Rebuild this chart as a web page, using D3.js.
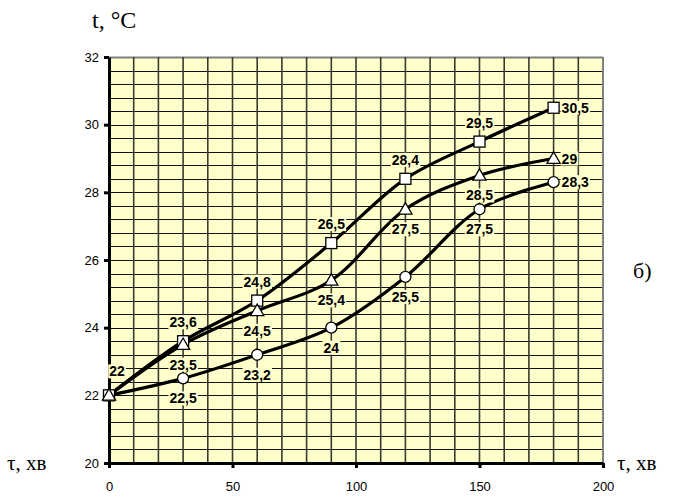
<!DOCTYPE html>
<html>
<head>
<meta charset="utf-8">
<script src="https://cdn.jsdelivr.net/npm/d3@7"></script>
<style>
  body { margin: 0; background: #fff; }
</style>
</head>
<body>
<div id="chart"></div>
<script>
// data
const times = [0, 30, 60, 90, 120, 150, 180];
const squares = [22, 23.6, 24.8, 26.5, 28.4, 29.5, 30.5];
const triangles = [22, 23.5, 24.5, 25.4, 27.5, 28.5, 29];
const circles = [22, 22.5, 23.2, 24, 25.5, 27.5, 28.3];
const xTicks = [0, 50, 100, 150, 200];
const yTicks = [20, 22, 24, 26, 28, 30, 32];

// where each point label goes ('' = none)
const squareLabelPos = ['first', 'above', 'above', 'above', 'above', 'above', 'right'];
const triangleLabelPos = ['', 'below', 'below', 'below', 'below', 'below', 'right'];
const circleLabelPos = ['', 'below', 'below', 'below', 'below', 'below', 'right'];

const width = 675, height = 497;
const margins = {top: 57, right: 72, bottom: 34, left: 109};

const svg = d3.select("#chart")
  .append("svg")
  .attr("width", width)
  .attr("height", height);

const xScale = d3.scaleLinear()
  .domain([0, 200])
  .range([margins.left, width - margins.right]);

const yScale = d3.scaleLinear()
  .domain([20, 32])
  .range([height - margins.bottom, margins.top]);

// plot background
svg.append("rect")
  .attr("x", xScale(0))
  .attr("y", yScale(32))
  .attr("width", xScale(200) - xScale(0))
  .attr("height", yScale(20) - yScale(32))
  .style("fill", "#ffffcc");

// grid: vertical every 10, horizontal every 0.4
const vGrid = d3.range(10, 201, 10);
const hGrid = d3.range(1, 31).map(i => 20 + i * 0.4);

svg.selectAll("line.hgrid")
  .data(hGrid)
  .join("line")
    .attr("class", "hgrid")
    .attr("x1", xScale(0))
    .attr("x2", xScale(200))
    .attr("y1", d => Math.round(yScale(d)) + 0.5)
    .attr("y2", d => Math.round(yScale(d)) + 0.5)
    .style("stroke", d => Math.abs(d - 32) < 0.01 ? "#808080" : "#111")
    .style("stroke-width", d => Math.abs(d - 32) < 0.01 ? 2 : 1);

svg.selectAll("line.vgrid")
  .data(vGrid)
  .join("line")
    .attr("class", "vgrid")
    .attr("x1", d => xScale(d))
    .attr("x2", d => xScale(d))
    .attr("y1", yScale(32))
    .attr("y2", yScale(20))
    .style("stroke", d => d === 200 ? "#808080" : "#3a3a30")
    .style("stroke-width", d => d === 200 ? 2 : 1.6);

// axes
const xAxis = d3.axisBottom(xScale).tickValues(xTicks).tickSize(5).tickSizeOuter(0).tickPadding(14);
const gx = svg.append("g")
  .attr("transform", `translate(0,${yScale(20)})`)
  .call(xAxis);

const yAxis = d3.axisLeft(yScale).tickValues(yTicks).tickSize(5).tickSizeOuter(0).tickPadding(5);
const gy = svg.append("g")
  .attr("transform", `translate(${xScale(0)},0)`)
  .call(yAxis);

[gx, gy].forEach(g => {
  g.select(".domain").style("stroke", "#000").style("stroke-width", 3);
  g.selectAll(".tick line").style("stroke", "#000").style("stroke-width", 3);
  g.selectAll(".tick text")
    .style("font-family", "Arial, 'Liberation Sans', sans-serif")
    .style("font-size", "13px")
    .style("fill", "#000");
});

// series (drawn bottom to top: circles, squares, triangles)
const series = [
  {name: "circles", values: circles, labels: circleLabelPos, marker: "circle"},
  {name: "squares", values: squares, labels: squareLabelPos, marker: "square"},
  {name: "triangles", values: triangles, labels: triangleLabelPos, marker: "triangle"}
];

const line = d3.line()
  .curve(d3.curveCatmullRom.alpha(0.5))
  .x(d => xScale(d[0]))
  .y(d => yScale(d[1]));

svg.selectAll("path.series")
  .data(series)
  .join("path")
    .attr("class", "series")
    .attr("d", s => line(times.map((t, i) => [t, s.values[i]])))
    .style("stroke", "#000")
    .style("stroke-width", 3.2)
    .style("fill", "none");

// point labels with background box
const fmt = v => String(v).replace(".", ",");
const labelData = [];
series.forEach(s => {
  s.values.forEach((v, i) => {
    if (!s.labels[i]) return;
    labelData.push({x: times[i], y: v, pos: s.labels[i]});
  });
});

const labels = svg.append("g");
labelData.forEach(d => {
  const px = xScale(d.x), py = yScale(d.y);
  let tx = px, ty = py, anchor = "middle";
  if (d.pos === "above") ty = py - 19;
  if (d.pos === "below") ty = py + 20;
  if (d.pos === "first") { tx = px + 8; ty = py - 24; }
  if (d.pos === "right") { tx = px + 8; anchor = "start"; }
  const g = labels.append("g");
  const bg = g.append("rect").style("fill", "#ffffcc");
  const t = g.append("text")
    .attr("x", tx)
    .attr("y", ty)
    .attr("dy", "0.36em")
    .attr("text-anchor", anchor)
    .style("font-family", "Arial, 'Liberation Sans', sans-serif")
    .style("font-size", "14px")
    .style("font-weight", "bold")
    .text(fmt(d.y));
  const b = t.node().getBBox();
  bg.attr("x", b.x - 1).attr("y", b.y + 1).attr("width", b.width + 2).attr("height", b.height - 2);
});

// markers
const triangle = d3.symbol().type(d3.symbolTriangle).size(75);
series.forEach(s => {
  const pts = times.map((t, i) => [t, s.values[i]]);
  const g = svg.append("g");
  if (s.marker === "square") {
    g.selectAll("rect")
      .data(pts)
      .join("rect")
        .attr("x", d => xScale(d[0]) - 5.5)
        .attr("y", d => yScale(d[1]) - 5.5)
        .attr("width", 11)
        .attr("height", 11)
        .style("fill", "#fff")
        .style("stroke", "#000")
        .style("stroke-width", 1.3);
  } else if (s.marker === "circle") {
    g.selectAll("circle")
      .data(pts)
      .join("circle")
        .attr("cx", d => xScale(d[0]))
        .attr("cy", d => yScale(d[1]))
        .attr("r", 5.5)
        .style("fill", "#fff")
        .style("stroke", "#000")
        .style("stroke-width", 1.3);
  } else {
    g.selectAll("path")
      .data(pts)
      .join("path")
        .attr("d", triangle)
        .attr("transform", d => `translate(${xScale(d[0])},${yScale(d[1]) + 1})`)
        .style("fill", "#fff")
        .style("stroke", "#000")
        .style("stroke-width", 1.3);
  }
});

// titles
const serif = "'Times New Roman', 'Liberation Serif', serif";
svg.append("text")
  .attr("x", 92)
  .attr("y", 28)
  .style("font-family", serif)
  .style("font-size", "24px")
  .text("t, °C");

svg.append("text")
  .attr("x", 7)
  .attr("y", 470)
  .style("font-family", serif)
  .style("font-size", "21px")
  .text("τ, хв");

svg.append("text")
  .attr("x", 617)
  .attr("y", 470)
  .style("font-family", serif)
  .style("font-size", "21px")
  .text("τ, хв");

svg.append("text")
  .attr("x", 633)
  .attr("y", 278)
  .style("font-family", serif)
  .style("font-size", "22px")
  .text("б)");
</script>
</body>
</html>
